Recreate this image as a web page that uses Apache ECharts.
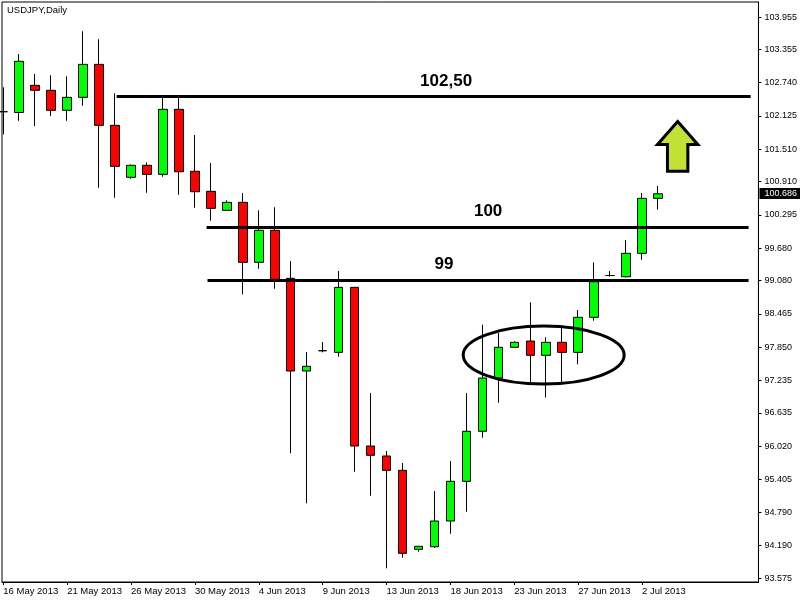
<!DOCTYPE html>
<html>
<head>
<meta charset="utf-8">
<script src="https://cdn.jsdelivr.net/npm/echarts@6/dist/echarts.min.js"></script>
<style>
html,body{margin:0;padding:0;background:#fff;}
#chart{width:800px;height:600px;}
</style>
</head>
<body>
<div id="chart"></div>
<script>
// ---- data ----
const title = 'USDJPY,Daily';
const dates = ['16 May 2013','17 May 2013','19 May 2013','20 May 2013','21 May 2013','22 May 2013','23 May 2013','24 May 2013','26 May 2013','27 May 2013','28 May 2013','29 May 2013','30 May 2013','31 May 2013','2 Jun 2013','3 Jun 2013','4 Jun 2013','5 Jun 2013','6 Jun 2013','7 Jun 2013','9 Jun 2013','10 Jun 2013','11 Jun 2013','12 Jun 2013','13 Jun 2013','14 Jun 2013','16 Jun 2013','17 Jun 2013','18 Jun 2013','19 Jun 2013','20 Jun 2013','21 Jun 2013','23 Jun 2013','24 Jun 2013','25 Jun 2013','26 Jun 2013','27 Jun 2013','28 Jun 2013','30 Jun 2013','1 Jul 2013','2 Jul 2013','3 Jul 2013'];
const opens  = [102.204,102.189,102.692,102.600,102.230,102.470,103.080,101.952,100.991,101.213,101.046,102.248,101.102,100.732,100.380,100.528,99.419,100.011,99.123,97.409,97.784,97.754,98.956,96.022,95.837,95.572,94.111,94.159,94.635,95.369,96.294,97.279,97.847,97.963,97.699,97.939,97.754,98.402,99.175,99.152,99.585,100.602];
const closes = [102.204,103.136,102.600,102.230,102.470,103.080,101.952,101.194,101.213,101.046,102.248,101.094,100.724,100.417,100.528,99.419,100.011,99.104,97.409,97.496,97.784,98.956,96.022,95.850,95.572,94.037,94.167,94.635,95.369,96.294,97.279,97.847,97.939,97.699,97.939,97.754,98.402,99.060,99.175,99.585,100.602,100.686];
const lows   = [101.786,102.037,101.939,102.124,102.037,102.315,100.798,100.613,100.965,100.706,101.002,100.669,100.429,100.188,100.380,98.827,99.300,98.931,95.887,94.962,97.754,97.673,95.546,95.103,93.760,93.956,94.067,94.135,94.400,94.807,96.175,96.822,97.847,97.163,96.919,97.187,97.533,98.339,99.156,99.138,99.467,100.392];
const highs  = [102.655,103.271,102.901,102.877,102.858,103.691,103.543,102.544,101.231,101.268,102.489,102.489,101.773,101.255,100.565,100.700,100.380,100.436,99.443,97.760,97.945,99.258,98.956,97.002,95.929,95.707,94.167,95.189,95.744,97.002,98.265,98.111,97.958,98.679,98.032,98.217,98.537,99.419,99.258,99.831,100.700,100.830];
const xTickIndex = [0,4,8,12,16,20,24,28,32,36,40];
const yTickLabels = ['93.575','94.190','94.790','95.405','96.020','96.635','97.235','97.850','98.465','99.080','99.680','100.295','100.910','101.510','102.125','102.740','103.355','103.955'];
// horizontal level lines (drawn annotations)
const levelValues = [102.49, 100.066, 99.091];
const levelFrom   = [7.1, 12.73, 12.79];
const levelTo     = [46.8, 46.67, 46.67];
const levelTexts  = ['102,50', '100', '99'];
const levelTextX  = [27.73, 30.36, 27.6];
const levelTextY  = [102.759, 100.368, 99.378];
// ellipse annotation (data units): center index, center price, half width (bars), half height (price)
const ellipseCenter = [33.84, 97.704];
const ellipseRadius = [5.04, 0.536];
// arrow annotation tip (data units)
const arrowTip = [42.23, 102.063];

const FONT = '"Liberation Sans", Arial, sans-serif';
const candleData = dates.map((d, i) => [i, opens[i], closes[i], lows[i], highs[i]]);
const lastPrice = closes[closes.length - 1];

const markLineData = levelValues.map((v, i) => [
  { coord: [levelFrom[i], v] },
  { coord: [levelTo[i], v] }
]);

const chart = echarts.init(document.getElementById('chart'), null, { renderer: 'canvas' });
chart.setOption({
  animation: false,
  backgroundColor: '#fff',
  title: {
    text: title,
    left: 7, top: 5, padding: 0,
    textStyle: { fontSize: 9.5, fontWeight: 'normal', color: '#000', fontFamily: FONT }
  },
  grid: {
    left: 2, right: 40, top: 2, bottom: 18,
    show: true, borderColor: '#000', borderWidth: 1, backgroundColor: '#fff'
  },
  xAxis: {
    type: 'value',
    min: -0.08, max: 47.29,
    axisLine: { onZero: false, lineStyle: { color: '#000', width: 1 } },
    axisTick: { show: true, length: 3, customValues: xTickIndex, lineStyle: { color: '#000' } },
    axisLabel: {
      customValues: xTickIndex,
      formatter: v => dates[Math.round(v)],
      align: 'left', margin: 4,
      color: '#000', fontSize: 9.5, fontFamily: FONT
    },
    splitLine: { show: false }
  },
  yAxis: {
    type: 'value',
    position: 'right',
    scale: true,
    min: 93.507, max: 104.233,
    axisLine: { show: true, onZero: false, lineStyle: { color: '#000', width: 1 } },
    axisTick: { show: true, length: 3, customValues: yTickLabels.map(Number), lineStyle: { color: '#000' } },
    axisLabel: {
      customValues: yTickLabels.map(Number),
      formatter: v => v.toFixed(3),
      margin: 6,
      color: '#000', fontSize: 9, fontFamily: FONT
    },
    splitLine: { show: false }
  },
  series: [{
    type: 'candlestick',
    data: candleData,
    dimensions: ['idx', 'open', 'close', 'lowest', 'highest'],
    encode: { x: 0, y: [1, 2, 3, 4] },
    barWidth: 9,
    clip: true,
    itemStyle: {
      color: '#00ff00', color0: '#ff0000',
      borderColor: '#000', borderColor0: '#000', borderWidth: 1
    },
    markLine: {
      silent: true,
      symbol: ['none', 'none'],
      animation: false,
      lineStyle: { color: '#000', width: 3, type: 'solid' },
      label: { show: false },
      data: markLineData
    }
  }, {
    type: 'line',
    data: [],
    markLine: {
      silent: true,
      symbol: ['none', 'none'],
      animation: false,
      lineStyle: { color: 'rgba(0,0,0,0)', width: 1, type: 'solid' },
      label: {
        show: true,
        position: 'end',
        distance: 1,
        formatter: lastPrice.toFixed(3),
        color: '#fff',
        backgroundColor: '#000',
        fontSize: 9,
        fontFamily: FONT,
        padding: [1, 5, 0, 5],
        lineHeight: 10
      },
      data: [{ yAxis: lastPrice }]
    }
  }]
});

function px(p) { return chart.convertToPixel({ gridIndex: 0 }, p); }

const graphics = [];
levelTexts.forEach((t, i) => {
  const p = px([levelTextX[i], levelTextY[i]]);
  graphics.push({
    type: 'text', x: p[0], y: p[1], z: 100,
    style: {
      text: t, fill: '#000',
      font: 'bold 17px ' + FONT,
      align: 'center', verticalAlign: 'middle',
      textAlign: 'center', textVerticalAlign: 'middle'
    }
  });
});
const c = px(ellipseCenter);
const e2 = px([ellipseCenter[0] + ellipseRadius[0], ellipseCenter[1] + ellipseRadius[1]]);
graphics.push({
  type: 'ellipse', z: 100,
  shape: { cx: c[0], cy: c[1], rx: Math.abs(e2[0] - c[0]), ry: Math.abs(e2[1] - c[1]) },
  style: { fill: null, stroke: '#000', lineWidth: 3 }
});
const a = px(arrowTip);
graphics.push({
  type: 'polygon', z: 100,
  shape: { points: [
    [a[0], a[1] + 2.2], [a[0] + 20.2, a[1] + 25.2], [a[0] + 10.2, a[1] + 25.2],
    [a[0] + 10.2, a[1] + 51.9], [a[0] - 10.2, a[1] + 51.9], [a[0] - 10.2, a[1] + 25.2],
    [a[0] - 20.2, a[1] + 25.2]
  ] },
  style: { fill: '#c3e134', stroke: '#000', lineWidth: 3, lineJoin: 'miter' }
});
chart.setOption({ graphic: graphics });
</script>
</body>
</html>
